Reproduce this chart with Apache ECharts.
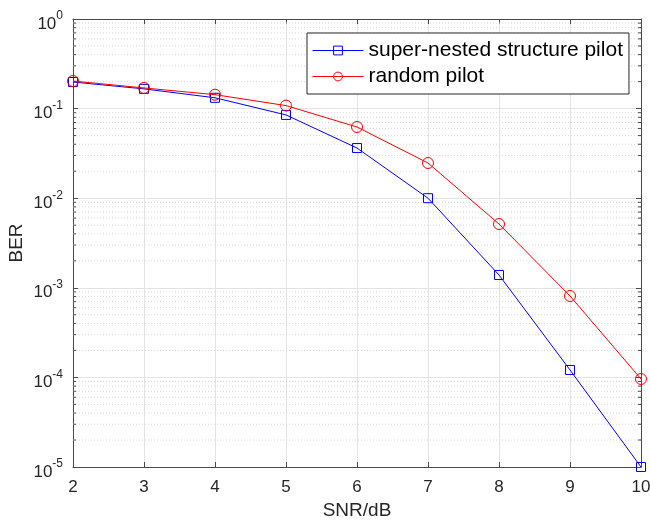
<!DOCTYPE html>
<html>
<head>
<meta charset="utf-8">
<script src="https://cdn.jsdelivr.net/npm/echarts@6/dist/echarts.min.js"></script>
<style>
  html, body { margin: 0; padding: 0; background: #fff; }
  #chart { width: 650px; height: 520px; }
</style>
</head>
<body>
<div id="chart"></div>
<script>
// SNR points and BER
const snr = [2, 3, 4, 5, 6, 7, 8, 9, 10];
const berNested = [0.198, 0.166, 0.132, 0.085, 0.0363, 0.0100, 0.00139, 0.000121, 0.00001];
const berRandom = [0.203, 0.170, 0.143, 0.108, 0.0623, 0.0247, 0.00515, 0.00081, 0.000096];
const seriesNames = ['super-nested structure pilot', 'random pilot'];
const seriesColors = ['#0000ff', '#ff0000'];

// minor grid (2..9 per decade) on the log axis
const decades = [1e-5, 1e-4, 1e-3, 1e-2, 1e-1];
const minorSteps = [2, 3, 4, 5, 6, 7, 8, 9];
const minorVals = [];
decades.forEach(d => minorSteps.forEach(m => minorVals.push([2, m * d])));

const font = '"Liberation Sans", Arial, Helvetica, sans-serif';
const axisColor = '#4a4a4a';
const gridColor = '#e3e3e3';
const txt = '#262626';

const chart = echarts.init(document.getElementById('chart'));

function pair(vals) {
  return snr.map((x, i) => [x, vals[i]]);
}

const option = {
  backgroundColor: '#fff',
  animation: false,
  textStyle: { fontFamily: font },
  grid: { left: 73, right: 9, top: 19, bottom: 53, containLabel: false, outerBoundsMode: 'none' },
  xAxis: [{
    type: 'value', min: 2, max: 10, interval: 1,
    name: 'SNR/dB', nameLocation: 'middle', nameGap: 34,
    nameTextStyle: { fontSize: 19, color: txt, fontFamily: font },
    axisLine: { lineStyle: { color: axisColor, width: 1 } },
    axisTick: { inside: true, length: 5, lineStyle: { color: axisColor } },
    axisLabel: { fontSize: 17, color: txt, margin: 12, fontFamily: font },
    splitLine: { show: true, lineStyle: { color: gridColor, width: 1 } }
  }, {
    type: 'value', min: 2, max: 10, interval: 1, position: 'top',
    axisLine: { lineStyle: { color: axisColor, width: 1 } },
    axisTick: { inside: true, length: 5, lineStyle: { color: axisColor } },
    axisLabel: { show: false },
    splitLine: { show: false }
  }],
  yAxis: [{
    type: 'log', logBase: 10, min: 1e-5, max: 1,
    name: 'BER', nameLocation: 'middle', nameGap: 47, nameRotate: 90,
    nameMoveOverlap: false,
    nameTextStyle: { fontSize: 19, color: txt, fontFamily: font },
    axisLine: { show: true, lineStyle: { color: axisColor, width: 1 } },
    axisTick: { inside: true, length: 5, lineStyle: { color: axisColor } },
    axisLabel: {
      margin: 10, color: txt,
      formatter: v => '{b|10}{s|' + Math.round(Math.log10(v)) + '}',
      rich: {
        b: { fontSize: 17, fontFamily: font, color: txt, padding: [10, 0, 0, 0] },
        s: { fontSize: 12, fontFamily: font, color: txt, padding: [0, 0, 6, 0] }
      }
    },
    splitLine: { show: true, lineStyle: { color: gridColor, width: 1 } }
  }, {
    type: 'log', logBase: 10, min: 1e-5, max: 1, position: 'right',
    axisLine: { show: true, lineStyle: { color: axisColor, width: 1 } },
    axisTick: { inside: true, length: 5, lineStyle: { color: axisColor } },
    axisLabel: { show: false },
    splitLine: { show: false }
  }],
  legend: {
    orient: 'vertical', left: 307, top: 33,
    padding: [7, 6, 7, 5], itemGap: 5, itemWidth: 51, itemHeight: 11,
    backgroundColor: '#fff', borderColor: '#262626', borderWidth: 1,
    textStyle: { fontSize: 21, color: '#000', fontFamily: font },
    data: seriesNames.map((n, i) => ({
      name: n,
      itemStyle: { color: 'rgba(255,255,255,0)', borderColor: seriesColors[i], borderWidth: 1 },
      lineStyle: { color: seriesColors[i], width: 1 }
    }))
  },
  series: [{
    type: 'custom', silent: true, z: 1,
    data: minorVals,
    renderItem: (params, api) => {
      const y = api.value(1);
      const a = api.coord([2, y]);
      const b = api.coord([10, y]);
      return {
        type: 'group', children: [
          { type: 'line', shape: { x1: a[0], y1: a[1], x2: b[0], y2: b[1] },
            style: { stroke: '#d9d9d9', lineWidth: 1, lineDash: [1, 2] } },
          { type: 'line', shape: { x1: a[0], y1: a[1], x2: a[0] + 3, y2: a[1] },
            style: { stroke: axisColor, lineWidth: 1 } },
          { type: 'line', shape: { x1: b[0] - 3, y1: b[1], x2: b[0], y2: b[1] },
            style: { stroke: axisColor, lineWidth: 1 } }
        ]
      };
    }
  }, {
    name: seriesNames[0], type: 'line', z: 3,
    data: pair(berNested),
    symbol: 'rect', symbolSize: 9, showAllSymbol: true,
    itemStyle: { color: 'rgba(255,255,255,0)', borderColor: seriesColors[0], borderWidth: 1 },
    lineStyle: { color: seriesColors[0], width: 1 }
  }, {
    name: seriesNames[1], type: 'line', z: 4,
    data: pair(berRandom),
    symbol: 'circle', symbolSize: 11, showAllSymbol: true,
    itemStyle: { color: 'rgba(255,255,255,0)', borderColor: seriesColors[1], borderWidth: 1 },
    lineStyle: { color: seriesColors[1], width: 1 }
  }]
};

chart.setOption(option);
</script>
</body>
</html>
